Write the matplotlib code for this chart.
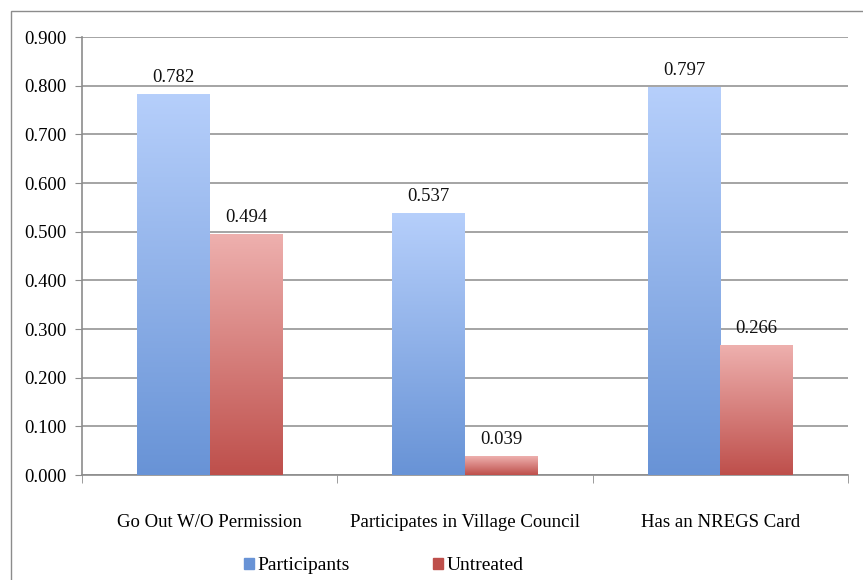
import matplotlib
matplotlib.use('agg')
import matplotlib.pyplot as plt
import matplotlib.patches as patches
from matplotlib.colors import LinearSegmentedColormap
import numpy as np

CATEGORIES = ["Go Out W/O Permission", "Participates in Village Council", "Has an NREGS Card"]
PARTICIPANTS = [0.782, 0.537, 0.797]
UNTREATED = [0.494, 0.039, 0.266]
SERIES = ["Participants", "Untreated"]
YTICKS = [0.0, 0.1, 0.2, 0.3, 0.4, 0.5, 0.6, 0.7, 0.8, 0.9]

BAR_W = 0.284
BLUE_TOP, BLUE_BOT = '#b6cffb', '#6893d6'
RED_TOP, RED_BOT = '#eeb0ae', '#be4f4b'

plt.rcParams['font.family'] = ['Liberation Serif', 'DejaVu Serif']

fig = plt.figure(figsize=(8.63, 5.80), dpi=100)
ax = fig.add_axes([82 / 863, 1 - 475 / 580, (848 - 82) / 863, (475 - 37) / 580])

# outer chart frame, cut off by the image edge on right/bottom
fig.add_artist(patches.Rectangle((11 / 863, -0.1), 1.2, 1 - 11 / 580 + 0.1,
                                 transform=fig.transFigure, fill=False,
                                 edgecolor='#8c8c8c', lw=1.0))

x = np.arange(len(CATEGORIES))


def gradient_bars(bars, top, bot):
    cmap = LinearSegmentedColormap.from_list('g', [bot, top])
    grad = np.linspace(0, 1, 256).reshape(-1, 1)
    for b in bars:
        x0, y0 = b.get_x(), b.get_y()
        w, h = b.get_width(), b.get_height()
        ax.imshow(grad, cmap=cmap, origin='lower', aspect='auto',
                  extent=(x0, x0 + w, y0, y0 + h), zorder=3)
        b.set_visible(False)


b1 = ax.bar(x - BAR_W / 2, PARTICIPANTS, BAR_W, color=BLUE_BOT, label=SERIES[0], zorder=3)
b2 = ax.bar(x + BAR_W / 2, UNTREATED, BAR_W, color=RED_BOT, label=SERIES[1], zorder=3)
gradient_bars(b1, BLUE_TOP, BLUE_BOT)
gradient_bars(b2, RED_TOP, RED_BOT)

for bars, vals in ((b1, PARTICIPANTS), (b2, UNTREATED)):
    for b, v in zip(bars, vals):
        ax.annotate('%.3f' % v, (b.get_x() + b.get_width() / 2, v),
                    xytext=(0, 6), textcoords='offset points',
                    ha='center', va='bottom', fontsize=13.5, color='#111111')

ax.set_xlim(-0.5, len(CATEGORIES) - 0.5)
ax.set_ylim(0, 0.9)
ax.set_yticks(YTICKS)
ax.set_yticklabels(['%.3f' % t for t in YTICKS], fontsize=13.5)
ax.set_xticks(x)
ax.set_xticklabels(CATEGORIES, fontsize=13.5)
ax.tick_params(axis='x', length=0, pad=28)
ax.tick_params(axis='y', length=5, color='#8c8c8c', pad=6)
ax.set_xticks(np.arange(len(CATEGORIES) + 1) - 0.5, minor=True)
ax.tick_params(axis='x', which='minor', length=6, color='#8c8c8c', direction='out')

ax.yaxis.grid(True, color='#8c8c8c', lw=1.1)
ax.set_axisbelow(True)
for s in ('top', 'right'):
    ax.spines[s].set_visible(False)
for s in ('left', 'bottom'):
    ax.spines[s].set_color('#8c8c8c')
    ax.spines[s].set_linewidth(1.2)

handles = [patches.Patch(color=BLUE_BOT), patches.Patch(color=RED_BOT)]
fig.legend(handles, SERIES, loc='center', bbox_to_anchor=(384 / 863, 1 - 566 / 580),
           ncol=2, frameon=False, fontsize=14, handlelength=0.5, handleheight=0.5,
           handletextpad=0.2, columnspacing=4.3)

plt.savefig('out.png', dpi=100)
